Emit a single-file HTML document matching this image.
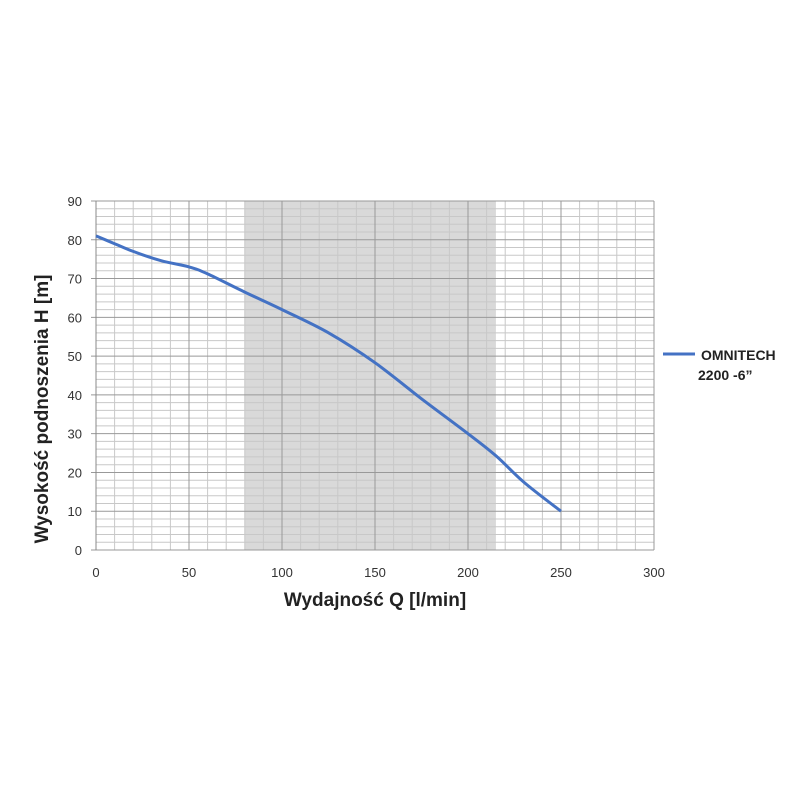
<!DOCTYPE html>
<html><head><meta charset="utf-8"><style>
html,body{margin:0;padding:0;background:#fff;}
svg{display:block;}
</style></head><body>
<svg id="s" width="800" height="800" xmlns="http://www.w3.org/2000/svg">
<rect x="0" y="0" width="800" height="800" fill="#fff"/>
<g id="g"></g>
<text x="375" y="606" font-family="Liberation Sans, sans-serif" font-weight="bold" font-size="19" text-anchor="middle" fill="#222">Wydajność Q [l/min]</text>
<text transform="translate(48,409) rotate(-90)" font-family="Liberation Sans, sans-serif" font-weight="bold" font-size="19" text-anchor="middle" fill="#222">Wysokość podnoszenia H [m]</text>
<line x1="663" y1="354" x2="695" y2="354" stroke="#4472c4" stroke-width="3"/>
<text x="701" y="360" font-family="Liberation Sans, sans-serif" font-weight="bold" font-size="14" fill="#222">OMNITECH</text>
<text x="698" y="380" font-family="Liberation Sans, sans-serif" font-weight="bold" font-size="14" fill="#222">2200 -6”</text>
</svg>
<script>
const g=document.getElementById('g');
const X=v=>96+v*558/300, Y=v=>550-v*349/90;
let h='';
h+=`<rect x="${X(80)}" y="${Y(90)}" width="${X(215)-X(80)}" height="${Y(0)-Y(90)}" fill="#d9d9d9"/>`;
for(let v=2;v<90;v+=2){if(v%10)h+=`<line x1="96" x2="654" y1="${Y(v)}" y2="${Y(v)}" stroke="#c8c8c8" stroke-width="1"/>`;}
for(let v=10;v<300;v+=10){if(v%50)h+=`<line y1="${Y(0)}" y2="${Y(90)}" x1="${X(v)}" x2="${X(v)}" stroke="#c8c8c8" stroke-width="1"/>`;}
for(let v=0;v<=90;v+=10){h+=`<line x1="91" x2="654" y1="${Y(v)}" y2="${Y(v)}" stroke="#999" stroke-width="1"/>`;
h+=`<text x="82" y="${Y(v)+5}" text-anchor="end" font-family="Liberation Sans, sans-serif" font-size="13" fill="#333">${v}</text>`;}
for(let v=0;v<=300;v+=50){h+=`<line y1="${Y(0)}" y2="${Y(90)}" x1="${X(v)}" x2="${X(v)}" stroke="#999" stroke-width="1"/>`;
h+=`<text x="${X(v)}" y="577" text-anchor="middle" font-family="Liberation Sans, sans-serif" font-size="13" fill="#333">${v}</text>`;}
h+=`<line x1="96" x2="96" y1="${Y(90)}" y2="${Y(0)}" stroke="#888"/>`;
const p=[[0,81],[10,79],[20,77],[35,74.6],[50,73],[60,71.2],[80,66.5],[100,62],[125,56],[150,48.3],[175,39],[200,30],[215,24.3],[230,17.5],[250,10]].map(q=>[X(q[0]),Y(q[1])]);
let d='M'+p[0][0].toFixed(1)+','+p[0][1].toFixed(1);
for(let i=0;i<p.length-1;i++){
 const a=p[Math.max(0,i-1)],b=p[i],c=p[i+1],e=p[Math.min(p.length-1,i+2)];
 const c1=[b[0]+(c[0]-a[0])/6,b[1]+(c[1]-a[1])/6],c2=[c[0]-(e[0]-b[0])/6,c[1]-(e[1]-b[1])/6];
 d+=` C${c1[0].toFixed(1)},${c1[1].toFixed(1)} ${c2[0].toFixed(1)},${c2[1].toFixed(1)} ${c[0].toFixed(1)},${c[1].toFixed(1)}`;
}
h+=`<path d="${d}" fill="none" stroke="#4472c4" stroke-width="3" stroke-linejoin="round"/>`;
g.innerHTML=h;
</script>
</body></html>
